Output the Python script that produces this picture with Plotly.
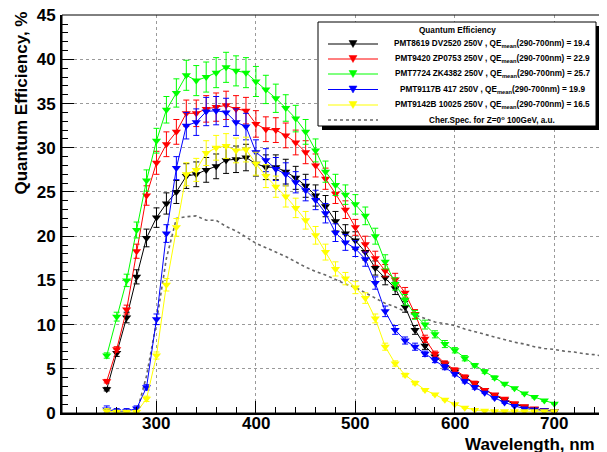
import plotly.graph_objects as go

# ---------------- data ----------------
wavelength = [250, 260, 270, 280, 290, 300, 310, 320, 330, 340, 350, 360, 370, 380, 390,
              400, 410, 420, 430, 440, 450, 460, 470, 480, 490, 500, 510, 520, 530, 540,
              550, 560, 570, 580, 590, 600, 610, 620, 630, 640, 650, 660, 670, 680, 690, 700]

qe_pmt8619 = [2.7, 6.8, 10.8, 15.4, 19.8, 22.1, 23.7, 25.0, 26.8, 27.0, 27.5, 27.9, 28.6, 28.7, 28.9,
              28.2, 27.8, 27.8, 27.3, 26.6, 25.7, 24.6, 23.4, 21.7, 20.3, 19.5, 18.2, 16.4, 15.3, 14.1,
              12.0, 9.4, 7.6, 6.4, 5.5, 4.7, 4.0, 3.3, 2.6, 2.0, 1.5, 1.0, 0.7, 0.45, 0.3, 0.2]
err_pmt8619 = [0.2, 0.4, 0.6, 0.8, 1.0, 1.1, 1.2, 1.3, 1.4, 1.4, 1.4, 1.4, 1.5, 1.5, 1.5,
               1.4, 1.4, 1.4, 1.4, 1.3, 1.3, 1.2, 1.2, 1.1, 1.0, 1.0, 0.9, 0.8, 0.8, 0.7,
               0.6, 0.5, 0.4, 0.3, 0.3, 0.2, 0.2, 0.2, 0.1, 0.1, 0.1, 0.1, 0.05, 0.05, 0.05, 0.05]

qe_pmt9420 = [3.6, 7.2, 11.7, 18.3, 24.6, 28.3, 30.4, 31.8, 33.9, 33.9, 34.4, 34.6, 34.8, 34.4, 34.2,
              32.7, 32.1, 32.0, 31.4, 30.6, 29.5, 28.0, 26.5, 24.8, 23.0, 21.0, 19.1, 17.5, 16.1, 15.1,
              13.6, 11.2, 8.4, 6.7, 5.6, 4.9, 4.1, 3.4, 2.6, 2.1, 1.6, 1.1, 0.76, 0.5, 0.3, 0.2]
err_pmt9420 = [0.2, 0.3, 0.5, 0.8, 1.1, 1.3, 1.4, 1.4, 1.5, 1.5, 1.5, 1.6, 1.6, 1.5, 1.5,
               1.5, 1.4, 1.4, 1.4, 1.4, 1.3, 1.3, 1.2, 1.1, 1.0, 0.9, 0.9, 0.8, 0.7, 0.7,
               0.6, 0.5, 0.4, 0.3, 0.3, 0.2, 0.2, 0.2, 0.1, 0.1, 0.1, 0.05, 0.05, 0.05, 0.05, 0.05]

qe_pmt7724 = [6.5, 10.9, 15.0, 20.7, 26.3, 30.8, 34.3, 36.2, 38.2, 37.6, 38.0, 38.5, 39.1, 38.7, 38.5,
              37.5, 36.6, 35.6, 34.5, 33.3, 31.8, 29.7, 27.3, 25.8, 24.7, 23.6, 22.3, 20.0, 17.1, 14.6,
              12.8, 11.1, 10.0, 8.9, 7.8, 7.1, 6.2, 5.4, 4.7, 4.0, 3.3, 2.8, 2.2, 1.8, 1.4, 1.06]
err_pmt7724 = [0.3, 0.5, 0.7, 0.9, 1.2, 1.4, 1.5, 1.6, 1.7, 1.7, 1.7, 1.7, 1.7, 1.7, 1.7,
               1.7, 1.6, 1.6, 1.5, 1.5, 1.4, 1.3, 1.2, 1.2, 1.1, 1.1, 1.0, 0.9, 0.8, 0.7,
               0.6, 0.5, 0.5, 0.4, 0.4, 0.3, 0.3, 0.2, 0.2, 0.2, 0.15, 0.1, 0.1, 0.1, 0.1, 0.05]

qe_pmt9117b = [0.4, 0.2, 0.2, 0.5, 2.9, 10.6, 20.3, 27.7, 32.5, 32.9, 34.1, 34.2, 34.0, 32.9, 32.4,
               29.5, 28.6, 27.6, 27.0, 26.1, 25.2, 24.1, 22.6, 20.4, 19.3, 18.6, 17.4, 14.7, 11.5, 9.4,
               8.2, 7.5, 6.7, 6.0, 5.2, 4.4, 3.6, 2.9, 2.3, 1.7, 1.2, 0.8, 0.5, 0.4, 0.3, 0.2]
err_pmt9117b = [0.4, 0.3, 0.3, 0.3, 0.3, 0.6, 1.0, 1.3, 1.5, 1.5, 1.6, 1.6, 1.6, 1.5, 1.5,
                1.4, 1.3, 1.3, 1.3, 1.2, 1.2, 1.1, 1.1, 1.0, 0.9, 0.9, 0.8, 0.7, 0.6, 0.5,
                0.4, 0.4, 0.3, 0.3, 0.3, 0.2, 0.2, 0.2, 0.1, 0.1, 0.1, 0.05, 0.05, 0.05, 0.05, 0.05]

qe_pmt9142b = [0.2, 0.1, 0.1, 0.1, 1.6, 6.5, 14.5, 21.0, 27.0, 27.5, 29.4, 30.0, 30.2, 29.7, 29.8,
               28.2, 26.8, 25.6, 24.5, 23.2, 21.8, 20.1, 18.2, 16.3, 15.2, 14.2, 13.0, 10.7, 7.5, 5.6,
               4.3, 3.4, 2.6, 2.1, 1.5, 1.0, 0.6, 0.35, 0.25, 0.2, 0.2, 0.2, 0.2, 0.2, 0.2, 0.2]
err_pmt9142b = [0.3, 0.2, 0.2, 0.2, 0.3, 0.4, 0.7, 1.0, 1.3, 1.3, 1.4, 1.4, 1.4, 1.4, 1.4,
                1.3, 1.3, 1.2, 1.2, 1.1, 1.0, 1.0, 0.9, 0.8, 0.7, 0.7, 0.6, 0.5, 0.4, 0.3,
                0.2, 0.2, 0.1, 0.1, 0.1, 0.05, 0.05, 0.05, 0.05, 0.05, 0.05, 0.05, 0.05, 0.05, 0.05, 0.05]

cher_wavelength = [280, 290, 300, 310, 320, 330, 340, 350, 360, 370, 380, 390, 400, 410, 420, 430,
                   440, 450, 460, 470, 480, 490, 500, 510, 520, 530, 540, 550, 560, 570, 580, 590,
                   600, 610, 620, 630, 640, 650, 660, 670, 680, 690, 700, 710, 720, 730, 740, 750]
cher_spectrum = [0.0, 4.2, 10.3, 17.5, 22.0, 22.2, 22.3, 21.8, 21.8, 21.1, 20.6, 19.9, 19.2, 18.7, 18.2, 17.7,
                 17.1, 16.5, 16.0, 15.6, 15.1, 14.6, 14.2, 13.6, 13.0, 12.4, 12.0, 11.5, 11.1, 10.7, 10.3, 10.1,
                 9.9, 9.5, 9.2, 8.9, 8.6, 8.3, 8.0, 7.8, 7.5, 7.3, 7.2, 7.0, 6.9, 6.7, 6.6, 6.4]

x_ticks = [300, 400, 500, 600, 700]
x_tick_labels = ["300", "400", "500", "600", "700"]
y_ticks = [0, 5, 10, 15, 20, 25, 30, 35, 40, 45]

legend_title = "Quantum Efficiency"
series_names = [
    "PMT8619 DV2520 250V , QE<sub>mean</sub>(290-700nm) = 19.4",
    "PMT9420 ZP0753 250V , QE<sub>mean</sub>(290-700nm) = 22.9",
    "PMT7724 ZK4382 250V , QE<sub>mean</sub>(290-700nm) = 25.7",
    "PMT9117B 417 250V , QE<sub>mean</sub>(290-700nm) = 19.9",
    "PMT9142B 10025 250V , QE<sub>mean</sub>(290-700nm) = 16.5",
]
cher_name = "Cher.Spec. for Z=0<sup>o</sup> 100GeV, a.u."
series_colors = ["#000000", "#ff0000", "#00ff00", "#0000ff", "#ffff00"]
cher_color = "#666666"

# ---------------- figure ----------------
# The page body has an 8px default margin: the figure is drawn 8px in from the
# top-left corner, so the figure is sized and laid out in window pixels minus 8.
OFF = 8
WIN_W, WIN_H = 607, 452
W, H = WIN_W - OFF, WIN_H - OFF
# plot area in window pixels
PL, PR, PT, PB = 62, 604, 15, 413
ML, MR, MT, MB = PL - OFF, WIN_W - PR, PT - OFF, WIN_H - PB


def px(x):
    return (x - PL) / (PR - PL)


def py(y):
    return (PB - y) / (PB - PT)


FONT = "Liberation Sans, Arial, sans-serif"
LEG_SIZE = 8.2
TICK_FONT = dict(family=FONT, size=17, color="black", weight="bold")

fig = go.Figure()

fig.add_trace(go.Scatter(
    x=cher_wavelength, y=cher_spectrum, mode="lines",
    line=dict(color=cher_color, width=1.6, dash="dot"),
    showlegend=False, hoverinfo="skip"))

all_vals = [qe_pmt8619, qe_pmt9420, qe_pmt7724, qe_pmt9117b, qe_pmt9142b]
all_errs = [err_pmt8619, err_pmt9420, err_pmt7724, err_pmt9117b, err_pmt9142b]
for name, vals, errs, col in zip(series_names, all_vals, all_errs, series_colors):
    fig.add_trace(go.Scatter(
        x=wavelength, y=vals, mode="lines+markers", name=name,
        line=dict(color=col, width=1),
        marker=dict(symbol="triangle-down", size=8, color=col, line=dict(width=0)),
        error_y=dict(type="data", array=errs, color=col, thickness=1, width=3),
        showlegend=False))

axis_common = dict(
    ticks="inside", tickcolor="black", tickwidth=1, ticklen=12,
    showline=True, linecolor="black", linewidth=2, mirror=False,
    showgrid=True, gridcolor="#9a9a9a", griddash="dot", gridwidth=1,
    zeroline=False, automargin=False,
    tickfont=TICK_FONT,
)

fig.update_layout(
    width=W, height=H,
    margin=dict(l=ML, r=MR, t=MT, b=MB, autoexpand=False),
    paper_bgcolor="white", plot_bgcolor="white",
    showlegend=False,
    xaxis=dict(range=[205, 750], tickvals=x_ticks, showticklabels=False,
               minor=dict(dtick=20, tick0=0, ticks="inside", ticklen=6,
                          tickcolor="black", showgrid=False),
               **axis_common),
    yaxis=dict(range=[0, 45.02], tickvals=y_ticks, ticklabelstandoff=1,
               ticklabeloverflow="allow",
               minor=dict(dtick=1, tick0=0, ticks="inside", ticklen=6,
                          tickcolor="black", showgrid=False),
               **axis_common),
)

shapes = []
# frame (top/right)
shapes.append(dict(type="rect", xref="paper", yref="paper", x0=0, y0=0, x1=1, y1=1,
                   line=dict(color="black", width=1), layer="above"))

# legend box with shadow
LX0, LX1, LY0, LY1 = 318, 596, 22, 126
shapes.append(dict(type="rect", xref="paper", yref="paper",
                   x0=px(LX0 + 4), x1=px(LX1 + 4), y0=py(LY0 + 4), y1=py(LY1 + 4),
                   fillcolor="black", line=dict(color="black", width=0), layer="above"))
shapes.append(dict(type="rect", xref="paper", yref="paper",
                   x0=px(LX0), x1=px(LX1), y0=py(LY0), y1=py(LY1),
                   fillcolor="white", line=dict(color="black", width=1), layer="above"))

annotations = []
# x tick labels (placed at the data positions of the ticks)
for tv, tl in zip(x_ticks, x_tick_labels):
    annotations.append(dict(text=tl, xref="x", yref="paper", x=tv, y=py(423.5),
                            xanchor="center", yanchor="middle", showarrow=False,
                            font=TICK_FONT))

annotations.append(dict(text=legend_title, xref="paper", yref="paper",
                        x=px((LX0 + LX1) / 2), y=py(30), xanchor="center", yanchor="middle",
                        showarrow=False,
                        font=dict(family=FONT, size=LEG_SIZE, color="black", weight="bold")))

row_y = [44, 59, 74, 89.5, 105, 120]
for i, (name, col) in enumerate(zip(series_names + [cher_name], series_colors + [cher_color])):
    yy = row_y[i]
    dash = "dot" if i == 5 else "solid"
    shapes.append(dict(type="line", xref="paper", yref="paper",
                       x0=px(328), x1=px(378), y0=py(yy), y1=py(yy),
                       line=dict(color=col, width=1.6 if i == 5 else 1, dash=dash), layer="above"))
    if i < 5:
        cx = 353
        path = "M {} {} L {} {} L {} {} Z".format(
            px(cx - 4), py(yy - 3.5), px(cx + 4), py(yy - 3.5), px(cx), py(yy + 3.5))
        shapes.append(dict(type="path", xref="paper", yref="paper", path=path,
                           fillcolor=col, line=dict(color=col, width=0.5), layer="above"))
    annotations.append(dict(text=name, xref="paper", yref="paper",
                            x=px(492), y=py(yy), xanchor="center", yanchor="middle",
                            showarrow=False,
                            font=dict(family=FONT, size=LEG_SIZE, color="black", weight="bold")))

# axis titles (ROOT style, right-aligned)
annotations.append(dict(text="Quantum Efficiency, %", xref="paper", yref="paper",
                        x=px(21), y=py(10), xanchor="center", yanchor="top",
                        textangle=-90, showarrow=False,
                        font=dict(family=FONT, size=17, color="black", weight="bold")))
annotations.append(dict(text="Wavelength, nm", xref="paper", yref="paper",
                        x=px(597), y=py(444.5), xanchor="right", yanchor="middle",
                        showarrow=False,
                        font=dict(family=FONT, size=17, color="black", weight="bold")))

fig.update_layout(shapes=shapes, annotations=annotations)

fig.write_html("out.html")
